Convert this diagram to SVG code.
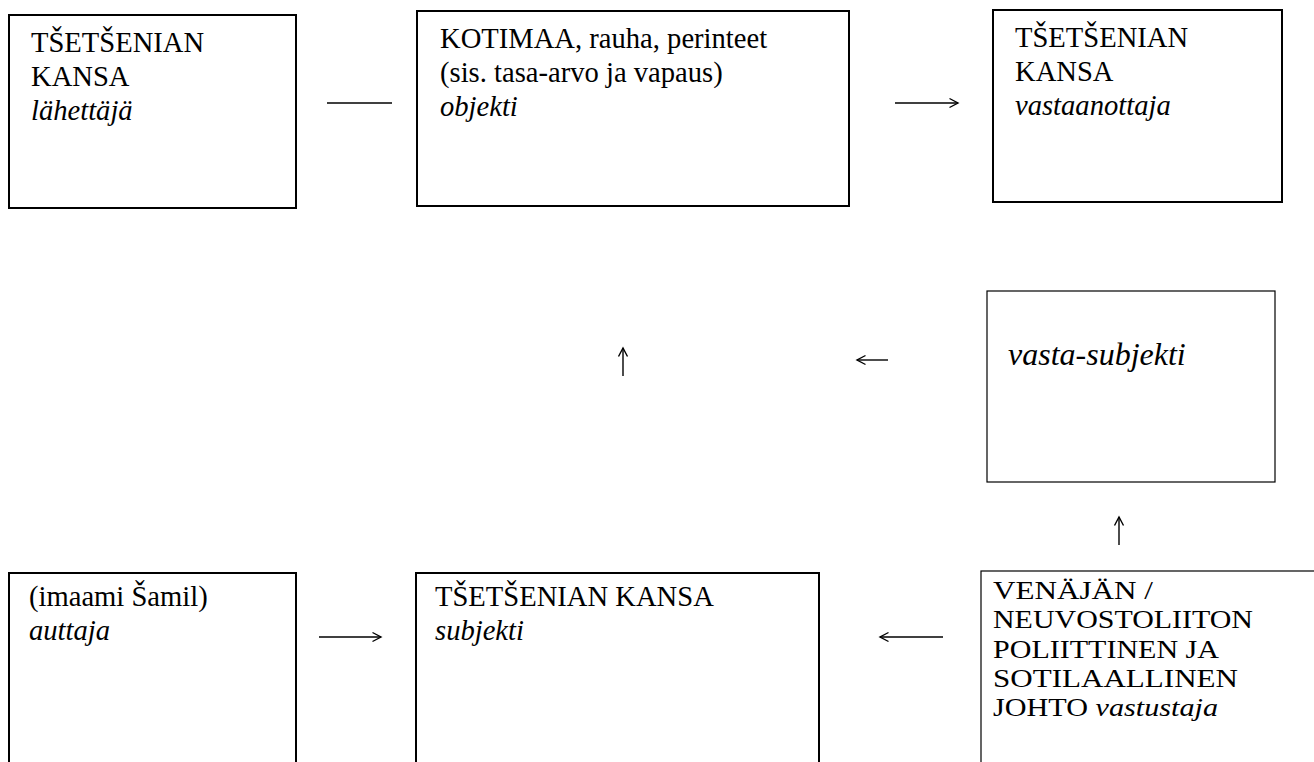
<svg xmlns="http://www.w3.org/2000/svg" width="1314" height="762" viewBox="0 0 1314 762">
<style>
  .box { fill: #ffffff; stroke: #000000; stroke-width: 2; }
  .thin { fill: #ffffff; stroke: #000000; stroke-width: 1.2; }
  .t { font-family: "Liberation Serif", "Times New Roman", serif; font-size: 28.6px; fill: #000000; }
  .i { font-style: italic; }
  .small { font-family: "Liberation Serif", "Times New Roman", serif; font-size: 24.5px; fill: #000000; }
  .conn { stroke: #000000; stroke-width: 1.4; fill: none; }
</style>
<defs>
  <marker id="arr" markerUnits="userSpaceOnUse" markerWidth="14" markerHeight="14" refX="10" refY="6" orient="auto">
    <path d="M1.5,1.5 L10,6 L1.5,10.5" fill="none" stroke="#000000" stroke-width="1.4"/>
  </marker>
</defs>
<rect x="0" y="0" width="1314" height="762" fill="#ffffff"/>

<g id="node-lahettaja">
  <rect class="box" x="9" y="15" width="287" height="193"/>
  <text class="t" x="31" y="52">TŠETŠENIAN</text>
  <text class="t" x="31" y="86">KANSA</text>
  <text class="t i" x="31" y="120">lähettäjä</text>
</g>

<g id="node-objekti">
  <rect class="box" x="417" y="11" width="432" height="195"/>
  <text class="t" x="440" y="48">KOTIMAA, rauha, perinteet</text>
  <text class="t" x="440" y="82">(sis. tasa-arvo ja vapaus)</text>
  <text class="t i" x="440" y="116">objekti</text>
</g>

<g id="node-vastaanottaja">
  <rect class="box" x="993" y="10" width="289" height="192"/>
  <text class="t" x="1015" y="47">TŠETŠENIAN</text>
  <text class="t" x="1015" y="81">KANSA</text>
  <text class="t i" x="1015" y="115">vastaanottaja</text>
</g>

<g id="node-vasta-subjekti">
  <rect class="thin" x="987" y="291" width="288" height="191"/>
  <text class="t i" x="1008" y="365" style="font-size:32px">vasta-subjekti</text>
</g>

<g id="node-auttaja">
  <rect class="box" x="9" y="573" width="287" height="220"/>
  <text class="t" x="29" y="606">(imaami Šamil)</text>
  <text class="t i" x="29" y="640">auttaja</text>
</g>

<g id="node-subjekti">
  <rect class="box" x="416" y="573" width="403" height="220"/>
  <text class="t" x="435" y="606">TŠETŠENIAN KANSA</text>
  <text class="t i" x="435" y="640">subjekti</text>
</g>

<g id="node-vastustaja">
  <rect class="thin" x="981" y="571" width="345" height="220"/>
  <text class="small" x="993" y="599" textLength="160" lengthAdjust="spacingAndGlyphs">VENÄJÄN /</text>
  <text class="small" x="993" y="628" textLength="260" lengthAdjust="spacingAndGlyphs">NEUVOSTOLIITON</text>
  <text class="small" x="993" y="658" textLength="226" lengthAdjust="spacingAndGlyphs">POLIITTINEN JA</text>
  <text class="small" x="993" y="687" textLength="245" lengthAdjust="spacingAndGlyphs">SOTILAALLINEN</text>
  <text class="small" x="993" y="716" textLength="225" lengthAdjust="spacingAndGlyphs">JOHTO <tspan class="i">vastustaja</tspan></text>
</g>

<g id="connectors">
  <line class="conn" x1="327" y1="103" x2="392" y2="103"/>
  <line class="conn" x1="895" y1="103" x2="958" y2="103" marker-end="url(#arr)"/>
  <line class="conn" x1="623" y1="376" x2="623" y2="348" marker-end="url(#arr)"/>
  <line class="conn" x1="888" y1="360" x2="857" y2="360" marker-end="url(#arr)"/>
  <line class="conn" x1="1119" y1="545" x2="1119" y2="517" marker-end="url(#arr)"/>
  <line class="conn" x1="319" y1="637" x2="381" y2="637" marker-end="url(#arr)"/>
  <line class="conn" x1="943" y1="637" x2="880" y2="637" marker-end="url(#arr)"/>
</g>
</svg>
